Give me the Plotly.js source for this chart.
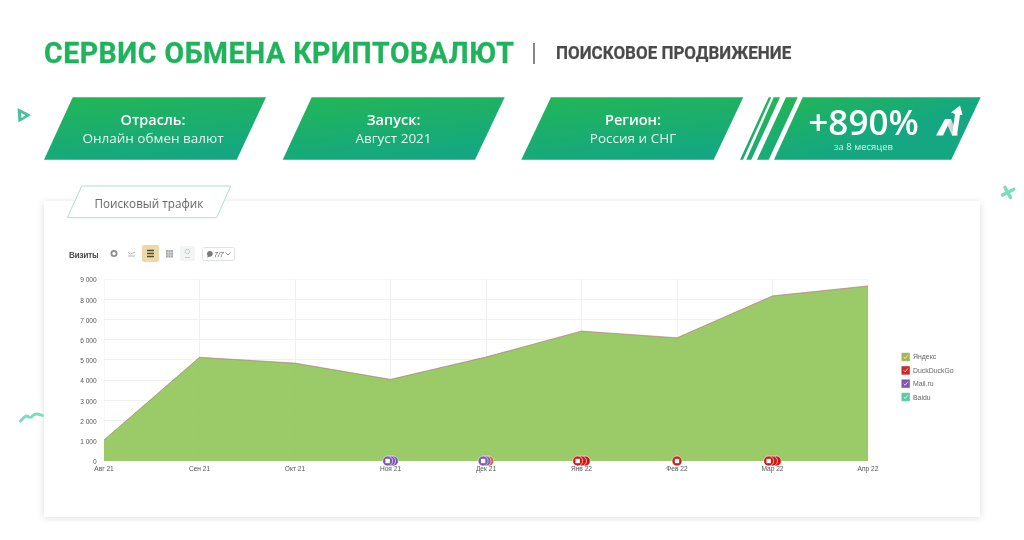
<!DOCTYPE html>
<html lang="ru">
<head>
<meta charset="utf-8">
<script src="https://cdn.plot.ly/plotly-3.0.1.min.js"></script>
<style>
html,body{margin:0;padding:0;background:#fff;width:1024px;height:540px;overflow:hidden}
#bg,#chart,#fg{position:absolute;left:0;top:0;width:1024px;height:540px}
#chart,#fg{filter:blur(.3px)}
#fg{pointer-events:none}
.t{position:absolute;white-space:nowrap;line-height:1}
.c{transform:translateX(-50%)}
.os{font-family:"Open Sans",sans-serif;color:#fff}
</style>
</head>
<body>
<svg id="bg" viewBox="0 0 1024 540" xmlns="http://www.w3.org/2000/svg">
  <defs>
    <linearGradient id="g" x1="0.2" y1="0" x2="0.55" y2="1">
      <stop offset="0" stop-color="#22b558"/><stop offset="1" stop-color="#14a782"/>
    </linearGradient>
    <linearGradient id="gs" gradientUnits="userSpaceOnUse" x1="790" y1="97" x2="810" y2="160">
      <stop offset="0" stop-color="#22b558"/><stop offset="1" stop-color="#14a782"/>
    </linearGradient>
    <linearGradient id="gn" x1="0" y1="0" x2="1" y2="0">
      <stop offset="0" stop-color="#f4f4f4"/><stop offset="1" stop-color="#b5b5b5"/>
    </linearGradient>
    <filter id="sh" x="-5%" y="-5%" width="110%" height="110%"><feDropShadow dx="0" dy="1" stdDeviation="3.5" flood-color="#000" flood-opacity="0.13"/></filter>
    <filter id="bl"><feGaussianBlur stdDeviation="0.4"/></filter>
  </defs>
  <rect x="44" y="201" width="936" height="316" fill="#fff" filter="url(#sh)"/>
  <polygon points="81.7,186 230.7,186 216.7,217.7 67.3,217.7" fill="#fff" stroke="#a9e2cd" stroke-width="1"/>
  <polygon points="72.7,97.3 266,97.3 236.7,159.7 44,159.7" fill="url(#g)"/>
  <polygon points="311.7,97.3 504.7,97.3 475,159.7 282.7,159.7" fill="url(#g)"/>
  <polygon points="551,97.3 743.3,97.3 713.7,159.7 521.3,159.7" fill="url(#g)"/>
  <polygon points="768.7,97.3 771.3,97.3 743,159.7 740,159.7" fill="url(#gs)"/>
  <polygon points="773.7,97.3 780,97.3 751.3,159.7 746.3,159.7" fill="url(#gs)"/>
  <polygon points="786,97.3 797.7,97.3 768.7,159.7 757,159.7" fill="url(#gs)"/>
  <polygon points="802.7,97.3 980.7,97.3 951.3,159.7 774,159.7" fill="url(#gs)"/>
  <polygon points="945,119 951,119 958,135.5 952,135.5" fill="url(#gn)"/>
  <polygon points="936,135.5 943,135.5 951,119 945,119" fill="#fff"/>
  <polygon points="952,135.5 957,135.5 960,115 962.5,115 960,105.5 951,112.5 955,114" fill="#fff"/>
  <rect x="533.3" y="43" width="1.4" height="21" fill="#555"/>
  <g filter="url(#bl)">
    <path d="M17.5,108 L31,115 L18.5,122.5 Z M21,113 L21.5,118 L25.5,115.2 Z" fill="#4cc09c" fill-rule="evenodd"/>
    <path d="M1005,187.5 L1010.5,197.5 M1002.5,195 L1013.5,189.5" fill="none" stroke="#7ddcc0" stroke-width="3.6" stroke-linecap="round"/>
    <path d="M20.5,421 C24,417 26,415 28,416.5 C30,418 31,418 33,415.5 C35,413 38,413.5 42.5,415.5" fill="none" stroke="#7ddcc0" stroke-width="3" stroke-linecap="round"/>
  </g>
  <!-- toolbar -->
  <rect x="142" y="245" width="17" height="17" rx="2" fill="#ecd9a8"/>
  <rect x="180" y="246" width="15" height="15" rx="2" fill="#f3f4f4"/>
  <rect x="202.5" y="247.5" width="32" height="13" rx="2" fill="#fff" stroke="#dfe3e3"/>
  <circle cx="114" cy="253.5" r="2.6" fill="none" stroke="#8a8f92" stroke-width="1.8"/>
  <path d="M128,252.5 l2.5,1.6 l2,-1 l2.5,-1 M128,256 h7" fill="none" stroke="#a5aaad" stroke-width="0.9"/>
  <path d="M147,250.5 h7 M147,253.5 h7 M147,256.5 h7" stroke="#4a4a3a" stroke-width="1.7"/>
  <rect x="166" y="250" width="7" height="7.5" fill="#a5aaad"/>
  <path d="M168.3,250 v7.5 M170.6,250 v7.5 M166,252.5 h7 M166,255 h7" stroke="#e8eaea" stroke-width="0.5"/>
  <circle cx="187.5" cy="251.5" r="2.2" fill="none" stroke="#c6cbcd" stroke-width="1"/>
  <path d="M185,257.5 h5" stroke="#c6cbcd" stroke-width="1"/>
  <path d="M207,257.5 l0.8,-1.6 a2.9,2.9 0 1 1 1.6,0.8 Z" fill="#767b7e"/>
  <path d="M225.5,252.5 l2.5,2.5 l2.5,-2.5" fill="none" stroke="#6a6f72" stroke-width="0.8"/>
</svg>

<div id="chart"></div>

<div id="fg">
  <div class="t" style="left:44px;top:34.5px;font:700 30px Roboto,sans-serif;color:#1fb35c;letter-spacing:.6px;transform:scaleX(.947);transform-origin:left top;-webkit-text-stroke:.35px #1fb35c">СЕРВИС ОБМЕНА КРИПТОВАЛЮТ</div>
  <div class="t" style="left:556px;top:43px;font:700 17.5px Roboto,sans-serif;color:#4a4a4a;transform:scaleX(.97);transform-origin:left top;-webkit-text-stroke:.2px #4a4a4a">ПОИСКОВОЕ ПРОДВИЖЕНИЕ</div>

  <div class="t c os" style="left:153px;top:112.5px;font-size:14.5px;font-weight:600">Отрасль:</div>
  <div class="t c os" style="left:153px;top:131.5px;font-size:13.5px;color:#e8f7f0">Онлайн обмен валют</div>
  <div class="t c os" style="left:393.5px;top:112.5px;font-size:14.5px;font-weight:600">Запуск:</div>
  <div class="t c os" style="left:393.5px;top:131.5px;font-size:13.5px;color:#e8f7f0">Август 2021</div>
  <div class="t c os" style="left:633px;top:112.5px;font-size:14.5px;font-weight:600">Регион:</div>
  <div class="t c os" style="left:633px;top:131.5px;font-size:13.5px;color:#e8f7f0">Россия и СНГ</div>
  <div class="t c os" style="left:863.5px;top:104px;font-size:35px;font-weight:600">+890%</div>
  <div class="t c os" style="left:863.5px;top:141.5px;font-size:9.5px;color:#d8f2e8">за 8 месяцев</div>

  <div class="t" style="left:94.5px;top:194.5px;font:11.7px 'Open Sans',sans-serif;color:#666">Поисковый трафик</div>
  <div class="t" style="left:69px;top:250px;font:8.6px 'Liberation Sans',sans-serif;color:#333;-webkit-text-stroke:.2px #333">Визиты</div>
  <div class="t" style="left:214px;top:250.5px;font:italic 7px 'Liberation Sans',sans-serif;color:#555">7/7</div>
</div>

<script>
// Chart data
var months = ["Авг 21","Сен 21","Окт 21","Ноя 21","Дек 21","Янв 22","Фев 22","Мар 22","Апр 22"];
var monthIndex = [0,1,2,3,4,5,6,7,8];
var yandex = [1040,5120,4830,4030,5130,6410,6080,8150,8640];
var duckDuckGo = [1,5,6,4,8,12,11,9,14];
var mailRu = [2,8,10,9,12,9,8,12,10];
var baidu = [0,1,1,1,1,2,1,1,1];
var yTicks = [0,1000,2000,3000,4000,5000,6000,7000,8000,9000];
var yTickLabels = ["0","1 000","2 000","3 000","4 000","5 000","6 000","7 000","8 000","9 000"];
var seriesNames = ["Яндекс","DuckDuckGo","Mail.ru","Baidu"];
var seriesColors = ["#a4b552","#cb2c2c","#7f57b2","#5cc8a8"];
var commentX = [3.03,3,2.97, 4.03,4,3.97, 5.04,5,4.96, 6, 7.04,7,6.96];
var commentColors = ["#7f57b2","#7f57b2","#7f57b2","#d9622f","#7f57b2","#7f57b2","#d01818","#d01818","#d01818","#d01818","#d01818","#d01818","#d01818"];
var commentFront = [2.97,3.97,4.96,6,6.96];

var W = 1024, H = 540;
function px(x){return x/W;}
function py(y){return 1-y/H;}

function area(name,vals,line,fill){
  return {type:"scatter",mode:"lines",name:name,x:monthIndex,y:vals,stackgroup:"one",
    line:{color:line,width:0.5,shape:"linear"},fillcolor:fill,hoverinfo:"x+y"};
}
var traces = [
  area(seriesNames[0],yandex,"rgba(164,181,82,0.6)","rgba(146,198,92,0.92)"),
  area(seriesNames[1],duckDuckGo,"rgba(203,44,44,0.55)","rgba(203,44,44,0.4)"),
  area(seriesNames[2],mailRu,"rgba(127,87,178,0.25)","rgba(127,87,178,0.3)"),
  area(seriesNames[3],baidu,"rgba(92,200,168,0.2)","rgba(92,200,168,0.2)"),
  {type:"scatter",mode:"markers",x:commentX,y:commentX.map(function(){return 0;}),cliponaxis:false,
    marker:{symbol:"circle",size:10,color:commentColors,line:{color:"#fff",width:0.6}},showlegend:false,hoverinfo:"skip"},
  {type:"scatter",mode:"markers",x:commentFront,y:commentFront.map(function(){return 0;}),cliponaxis:false,
    marker:{symbol:"square",size:4.4,color:"#fff"},showlegend:false,hoverinfo:"skip"}
];

var gridColor = "#eef1f1";
var shapes = [
  {type:"line",xref:"x",yref:"y",x0:0,x1:8,y0:9000,y1:9000,line:{color:gridColor,width:1},layer:"below"},
  {type:"line",xref:"x",yref:"y",x0:0,x1:0,y0:0,y1:9000,line:{color:gridColor,width:1},layer:"below"},
  {type:"line",xref:"x",yref:"y",x0:8,x1:8,y0:0,y1:9000,line:{color:gridColor,width:1},layer:"below"}
];
var annotations = [];
var legendY = [357,370.4,383.7,397];
seriesNames.forEach(function(n,i){
  var y = legendY[i];
  shapes.push({type:"rect",xref:"paper",yref:"paper",x0:px(901.8),x1:px(909.6),y0:py(y-3.9),y1:py(y+3.9),
    fillcolor:seriesColors[i],line:{width:0.6,color:seriesColors[i]},layer:"above"});
  shapes.push({type:"path",xref:"paper",yref:"paper",
    path:"M "+px(903.8)+" "+py(y)+" L "+px(905.2)+" "+py(y+1.5)+" L "+px(907.8)+" "+py(y-1.8),
    line:{color:"rgba(255,255,255,0.9)",width:0.8},layer:"above"});
  annotations.push({xref:"paper",yref:"paper",x:px(911.5),y:py(y),text:n,showarrow:false,xanchor:"left",yanchor:"middle",
    borderpad:0,font:{family:"Liberation Sans, Arial, sans-serif",size:6.9,color:"#666"}});
});

var layout = {
  width:W,height:H,margin:{l:0,r:0,t:0,b:0,pad:0},
  paper_bgcolor:"rgba(0,0,0,0)",plot_bgcolor:"rgba(0,0,0,0)",showlegend:false,
  font:{family:"Liberation Sans, Arial, sans-serif",size:6.6,color:"#666"},
  xaxis:{domain:[px(104),px(868)],range:[0,8],tickmode:"array",tickvals:monthIndex,ticktext:months,
    ticks:"outside",ticklen:1,tickcolor:"rgba(0,0,0,0)",showgrid:true,gridcolor:gridColor,gridwidth:1,
    zeroline:false,showline:false,tickangle:0,tickfont:{size:6.6,color:"#555"},fixedrange:true},
  yaxis:{domain:[py(461),py(279)],range:[0,9000],tickmode:"array",tickvals:yTicks,ticktext:yTickLabels,
    ticks:"outside",ticklen:5,tickcolor:"rgba(0,0,0,0)",showgrid:true,gridcolor:gridColor,gridwidth:1,
    zeroline:false,showline:false,ticklabelshift:1,tickfont:{size:6.6,color:"#555"},fixedrange:true},
  shapes:shapes,annotations:annotations
};
Plotly.newPlot("chart",traces,layout,{displayModeBar:false,responsive:false,staticPlot:true});
</script>
</body>
</html>
